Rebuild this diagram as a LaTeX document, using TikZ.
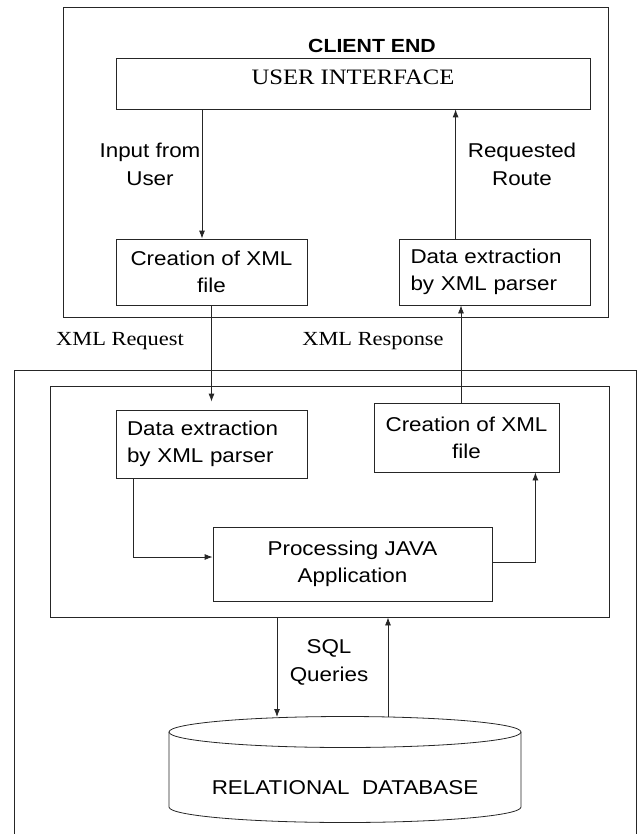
\documentclass[tikz,border=0pt]{standalone}
\usepackage{fontspec}
\setmainfont{Liberation Serif}[FakeStretch=1.12]
\setsansfont{Liberation Sans}[FakeStretch=1.12]
\usetikzlibrary{arrows.meta}

\tikzset{
  box/.style   = {draw, inner sep=0pt, align=center,
                  font=\sffamily\fontsize{20}{27}\selectfont},
  lbl/.style   = {align=center, font=\sffamily\fontsize{20}{28}\selectfont},
  serif/.style = {font=\rmfamily\fontsize{20}{24}\selectfont},
  arr/.style   = {-{Latex[length=8pt,width=6pt]}},
}

\begin{document}
\begin{tikzpicture}[x=1pt, y=-1pt, line width=0.8pt, draw=black!85]
  \useasboundingbox (0,0) rectangle (639,834);
  % frames
  \draw (63,7) rectangle (608,317);
  \draw (14,834) |- (636,370) -- (636,834);

  % client end
  \node [font=\sffamily\bfseries\fontsize{19}{22}\selectfont] (cend) at (372,46) {CLIENT END};
  \node [box, minimum width=474pt, minimum height=51pt, text height=22pt, text depth=19pt,
         font=\rmfamily\fontsize{22}{26}\selectfont] (ui) at (353,83.5) {USER INTERFACE};
  \node [box, minimum width=191pt, minimum height=66pt] (cxml)   at (211.5,272) {Creation of XML\\file};
  \node [box, minimum width=191pt, minimum height=66pt, text width=168pt, align=left] (cparse) at (494.5,272) {Data extraction\\by XML parser};
  \node [lbl] (input) at (150,164) {Input from\\User};
  \node [lbl] (route) at (522,164) {Requested\\Route};

  % between
  \node [serif] (req) at (120,341) {XML Request};
  \node [serif] (resp) at (373,341) {XML Response};

  % server end
  \node [draw, minimum width=559pt, minimum height=231pt] (srv) at (329.5,501.5) {};
  \node [box, minimum width=191pt, minimum height=68pt, text width=169pt, align=left] (sparse) at (211.5,444) {Data extraction\\by XML parser};
  \node [box, minimum width=185pt, minimum height=69pt] (sxml)  at (466.5,437.5) {Creation of XML\\file};
  \node [box, minimum width=279pt, minimum height=74pt] (java)  at (352.5,564) {Processing JAVA\\Application};
  \node [lbl] (sql) at (329,662) {SQL\\Queries};

  % database
  \coordinate (dbtop) at (345,717);
  \draw (169,732) -- (169,807) arc [start angle=180, end angle=360, x radius=176pt, y radius=15.5pt] -- (521,732);
  \draw (345,732) ellipse [x radius=176pt, y radius=15.5pt];
  \node [lbl] (db) at (345,788) {RELATIONAL\ \ DATABASE};

  % connectors
  \draw [arr] ([xshift=-9.5pt]cxml.north |- ui.south) -- ([xshift=-9.5pt]cxml.north);
  \draw [arr] ([xshift=57pt]cparse.north west) -- ([xshift=57pt]cparse.north west |- ui.south);
  \draw [arr] (cxml.south) -- ([yshift=8pt]cxml.south |- sparse.north);
  \draw [arr] ([xshift=-5.5pt]sxml.north) -- ([xshift=-5.5pt]sxml.north |- cparse.south);
  \draw [arr] ([xshift=18pt]sparse.south west) |- ([yshift=7pt]java.west);
  \draw [arr] ([yshift=2pt]java.east) -| ([xshift=-24pt]sxml.south east);
  \draw [arr] ([xshift=-52.5pt]srv.south) -- ([xshift=-68pt]dbtop);
  \draw [arr] ([xshift=43pt]dbtop) -- ([xshift=43pt]dbtop |- srv.south);
\end{tikzpicture}
\end{document}
